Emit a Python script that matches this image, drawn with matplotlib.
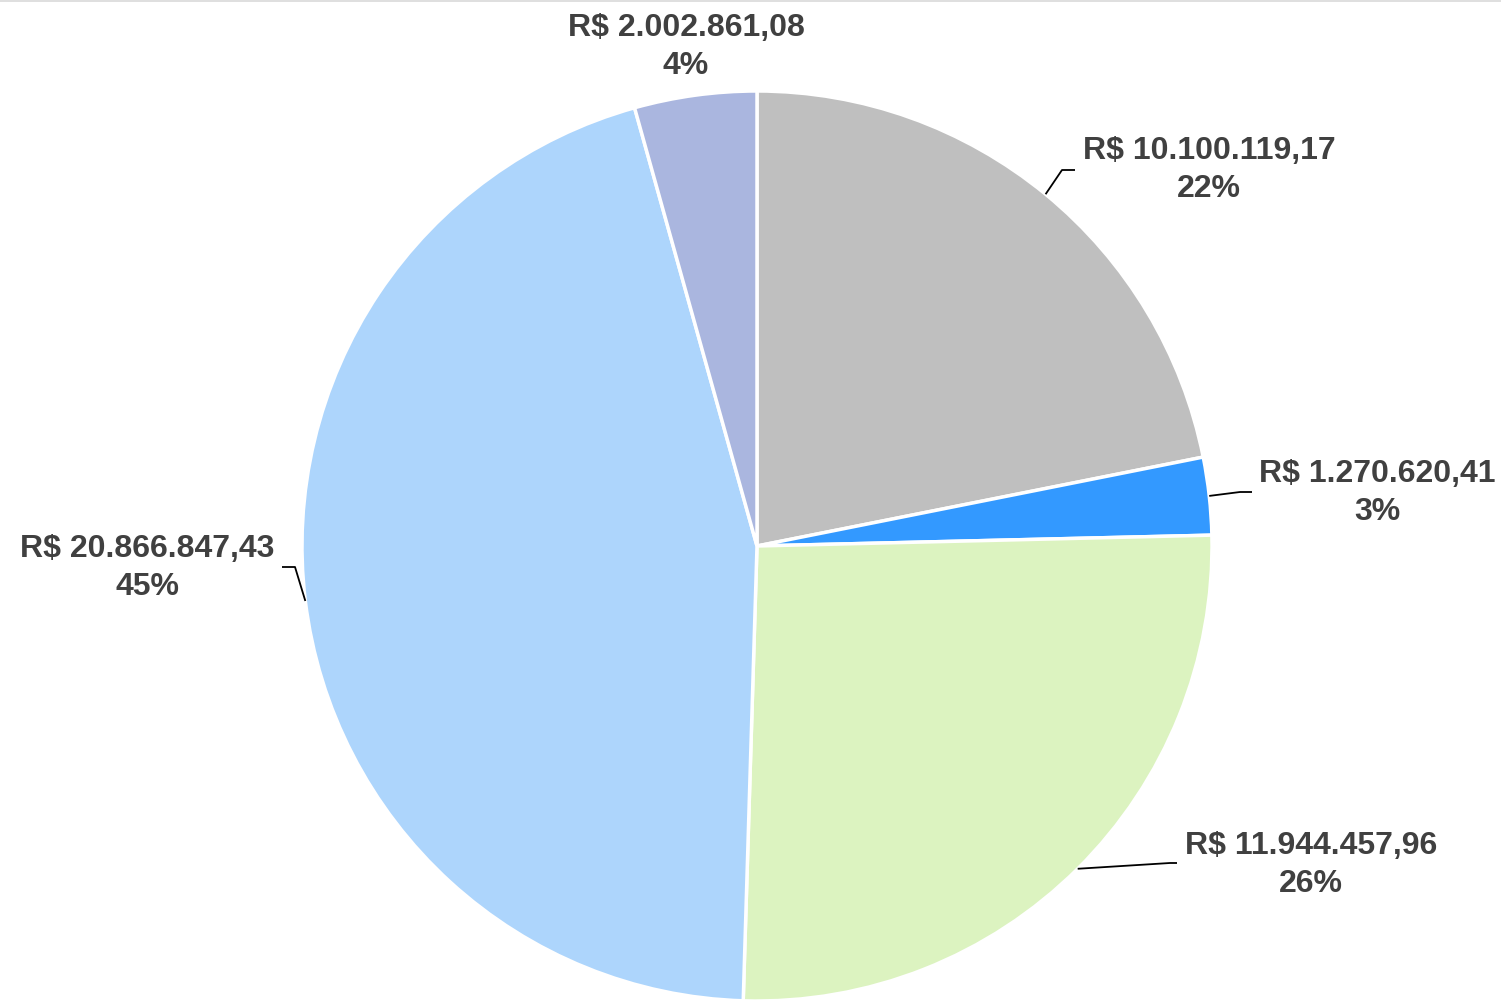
import matplotlib
matplotlib.use("Agg")
import matplotlib.pyplot as plt
import numpy as np

# valores por categoria (sentido horário a partir do topo)
valores = [10100119.17, 1270620.41, 11944457.96, 20866847.43, 2002861.08]
rotulos = ["R$ 10.100.119,17", "R$ 1.270.620,41", "R$ 11.944.457,96",
           "R$ 20.866.847,43", "R$ 2.002.861,08"]
percentuais = ["22%", "3%", "26%", "45%", "4%"]
cores = ["#BFBFBF", "#3399FF", "#DCF3C0", "#ADD5FC", "#AAB6DF"]

# layout em pixels (origem embaixo à esquerda)
centro = (757, 454)
raio = 455
pos_texto = [(1209, 830), (1377, 507), (1311, 135), (147, 432), (686, 953)]
cotovelo = [[(1062, 830), (1075, 830)],
            [(1240, 508), (1252, 508)],
            [(1170, 137), (1177, 137)],
            [(295, 433), (282, 433)],
            None]

plt.rcParams['font.family'] = ['Liberation Sans', 'DejaVu Sans']

fig = plt.figure(figsize=(15.01, 10), dpi=100)
ax = fig.add_axes([0, 0, 1, 1])
ax.axis("off")

wedges, _ = ax.pie(valores, colors=cores, startangle=90, counterclock=False,
                   center=centro, radius=raio,
                   wedgeprops=dict(edgecolor="white", linewidth=2.5))
ax.set_xlim(0, 1501)
ax.set_ylim(0, 1000)
ax.set_aspect("equal")

for w, rot, pct, pt, cot in zip(wedges, rotulos, percentuais, pos_texto, cotovelo):
    ang = np.deg2rad((w.theta1 + w.theta2) / 2)
    x0 = centro[0] + raio * np.cos(ang)
    y0 = centro[1] + raio * np.sin(ang)
    if cot is not None:
        xs = [x0] + [c[0] for c in cot]
        ys = [y0] + [c[1] for c in cot]
        ax.plot(xs, ys, color="black", lw=1.3, solid_capstyle="butt")
    ax.text(pt[0], pt[1], rot + "\n" + pct, ha="center", va="center",
            fontsize=23, fontweight="bold", color="#404040", linespacing=1.33)

# linha fina no topo
fig.add_artist(plt.Line2D([0, 1], [0.999, 0.999], transform=fig.transFigure,
                          color="#D9D9D9", lw=1.2))

fig.savefig("out.png", dpi=100)
